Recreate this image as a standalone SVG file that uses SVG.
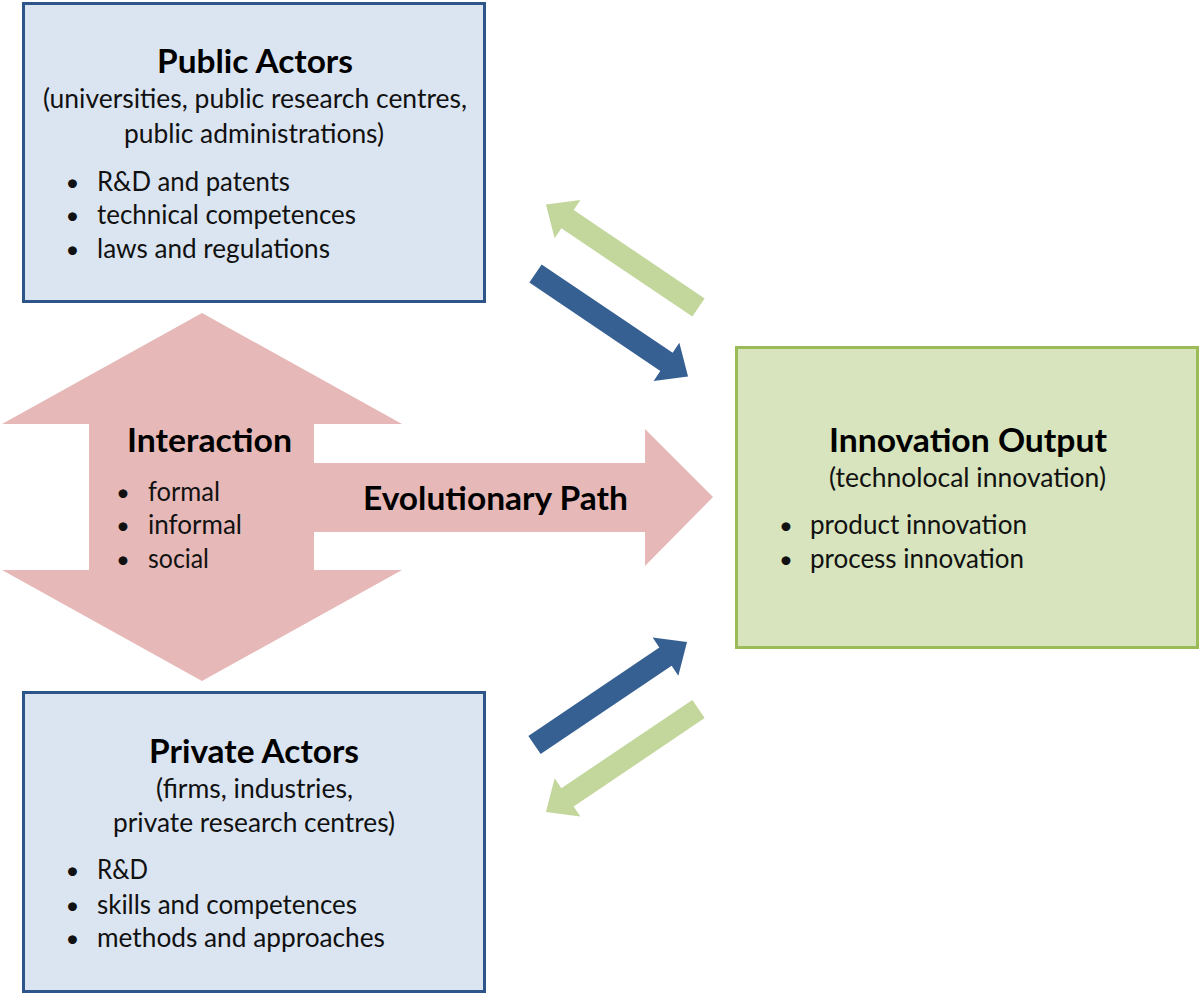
<svg xmlns="http://www.w3.org/2000/svg" width="1200" height="995" viewBox="0 0 1200 995">
<style>
text{font-family:Lato,"Open Sans","Liberation Sans",sans-serif;fill:#000}
.t{font-size:33px;font-weight:bold;text-anchor:middle}
.s{font-size:26px;text-anchor:middle;fill:#111}
.b{font-size:26px;fill:#111}
.d{font-size:24px;text-anchor:middle;fill:#111}
.blue{fill:#dbe5f1;stroke:#2d5589;stroke-width:3}
.green{fill:#d7e4bd;stroke:#9bbb59;stroke-width:3}
</style>
<defs>
<path id="arr" d="M0,-11 L158,-11 L158,-23 L184,0 L158,23 L158,11 L0,11 Z"/>
</defs>
<rect width="1200" height="995" fill="#fff"/>
<g id="interaction">
<path d="M202,313 L402,424 L314,424 L314,463 L645,463 L645,429 L713,497 L645,566 L645,532 L314,532 L314,570 L402,570 L202,681 L2,570 L89,570 L89,424 L2,424 Z" fill="#e6b9b8"/>
<text class="t" x="209.5" y="452" textLength="165" lengthAdjust="spacingAndGlyphs">Interaction</text>
<text class="d" x="123" y="501">•</text>
<text class="d" x="123" y="534">•</text>
<text class="d" x="123" y="568">•</text>
<text class="b" x="148" y="501" textLength="72" lengthAdjust="spacingAndGlyphs">formal</text>
<text class="b" x="148" y="534" textLength="94" lengthAdjust="spacingAndGlyphs">informal</text>
<text class="b" x="148" y="568" textLength="61" lengthAdjust="spacingAndGlyphs">social</text>
<text class="t" x="495.5" y="510" textLength="265" lengthAdjust="spacingAndGlyphs">Evolutionary Path</text>
</g>
<g id="connectors">
<use href="#arr" fill="#c3d69b" transform="translate(698.5,307.5) rotate(214)"/>
<use href="#arr" fill="#376092" transform="translate(535.5,273.5) rotate(34)"/>
<use href="#arr" fill="#376092" transform="translate(534.5,745) rotate(-34)"/>
<use href="#arr" fill="#c3d69b" transform="translate(698.5,709) rotate(146)"/>
</g>
<g id="public">
<rect class="blue" x="23.5" y="3.5" width="461" height="298"/>
<text class="t" x="255" y="73" textLength="196" lengthAdjust="spacingAndGlyphs">Public Actors</text>
<text class="s" x="255" y="108" textLength="424" lengthAdjust="spacingAndGlyphs">(universities, public research centres,</text>
<text class="s" x="254" y="143" textLength="260" lengthAdjust="spacingAndGlyphs">public administrations)</text>
<text class="d" x="72.5" y="191">•</text>
<text class="d" x="72.5" y="224">•</text>
<text class="d" x="72.5" y="258">•</text>
<text class="b" x="97" y="191" textLength="193" lengthAdjust="spacingAndGlyphs">R&amp;D and patents</text>
<text class="b" x="97" y="224" textLength="259" lengthAdjust="spacingAndGlyphs">technical competences</text>
<text class="b" x="97" y="258" textLength="233" lengthAdjust="spacingAndGlyphs">laws and regulations</text>
</g>
<g id="private">
<rect class="blue" x="23.5" y="692.5" width="461" height="299"/>
<text class="t" x="254" y="763" textLength="210" lengthAdjust="spacingAndGlyphs">Private Actors</text>
<text class="s" x="254.5" y="798" textLength="197" lengthAdjust="spacingAndGlyphs">(firms, industries,</text>
<text class="s" x="254" y="832" textLength="282" lengthAdjust="spacingAndGlyphs">private research centres)</text>
<text class="d" x="72.5" y="879">•</text>
<text class="d" x="72.5" y="914">•</text>
<text class="d" x="72.5" y="947">•</text>
<text class="b" x="97" y="879" textLength="51" lengthAdjust="spacingAndGlyphs">R&amp;D</text>
<text class="b" x="97" y="914" textLength="260" lengthAdjust="spacingAndGlyphs">skills and competences</text>
<text class="b" x="97" y="947" textLength="288" lengthAdjust="spacingAndGlyphs">methods and approaches</text>
</g>
<g id="innovation">
<rect class="green" x="736.5" y="347.5" width="461" height="300"/>
<text class="t" x="968" y="452" textLength="278" lengthAdjust="spacingAndGlyphs">Innovation Output</text>
<text class="s" x="967.5" y="487" textLength="277" lengthAdjust="spacingAndGlyphs">(technolocal innovation)</text>
<text class="d" x="786" y="534">•</text>
<text class="d" x="786" y="568">•</text>
<text class="b" x="810" y="534" textLength="217" lengthAdjust="spacingAndGlyphs">product innovation</text>
<text class="b" x="810" y="568" textLength="214" lengthAdjust="spacingAndGlyphs">process innovation</text>
</g>
</svg>
